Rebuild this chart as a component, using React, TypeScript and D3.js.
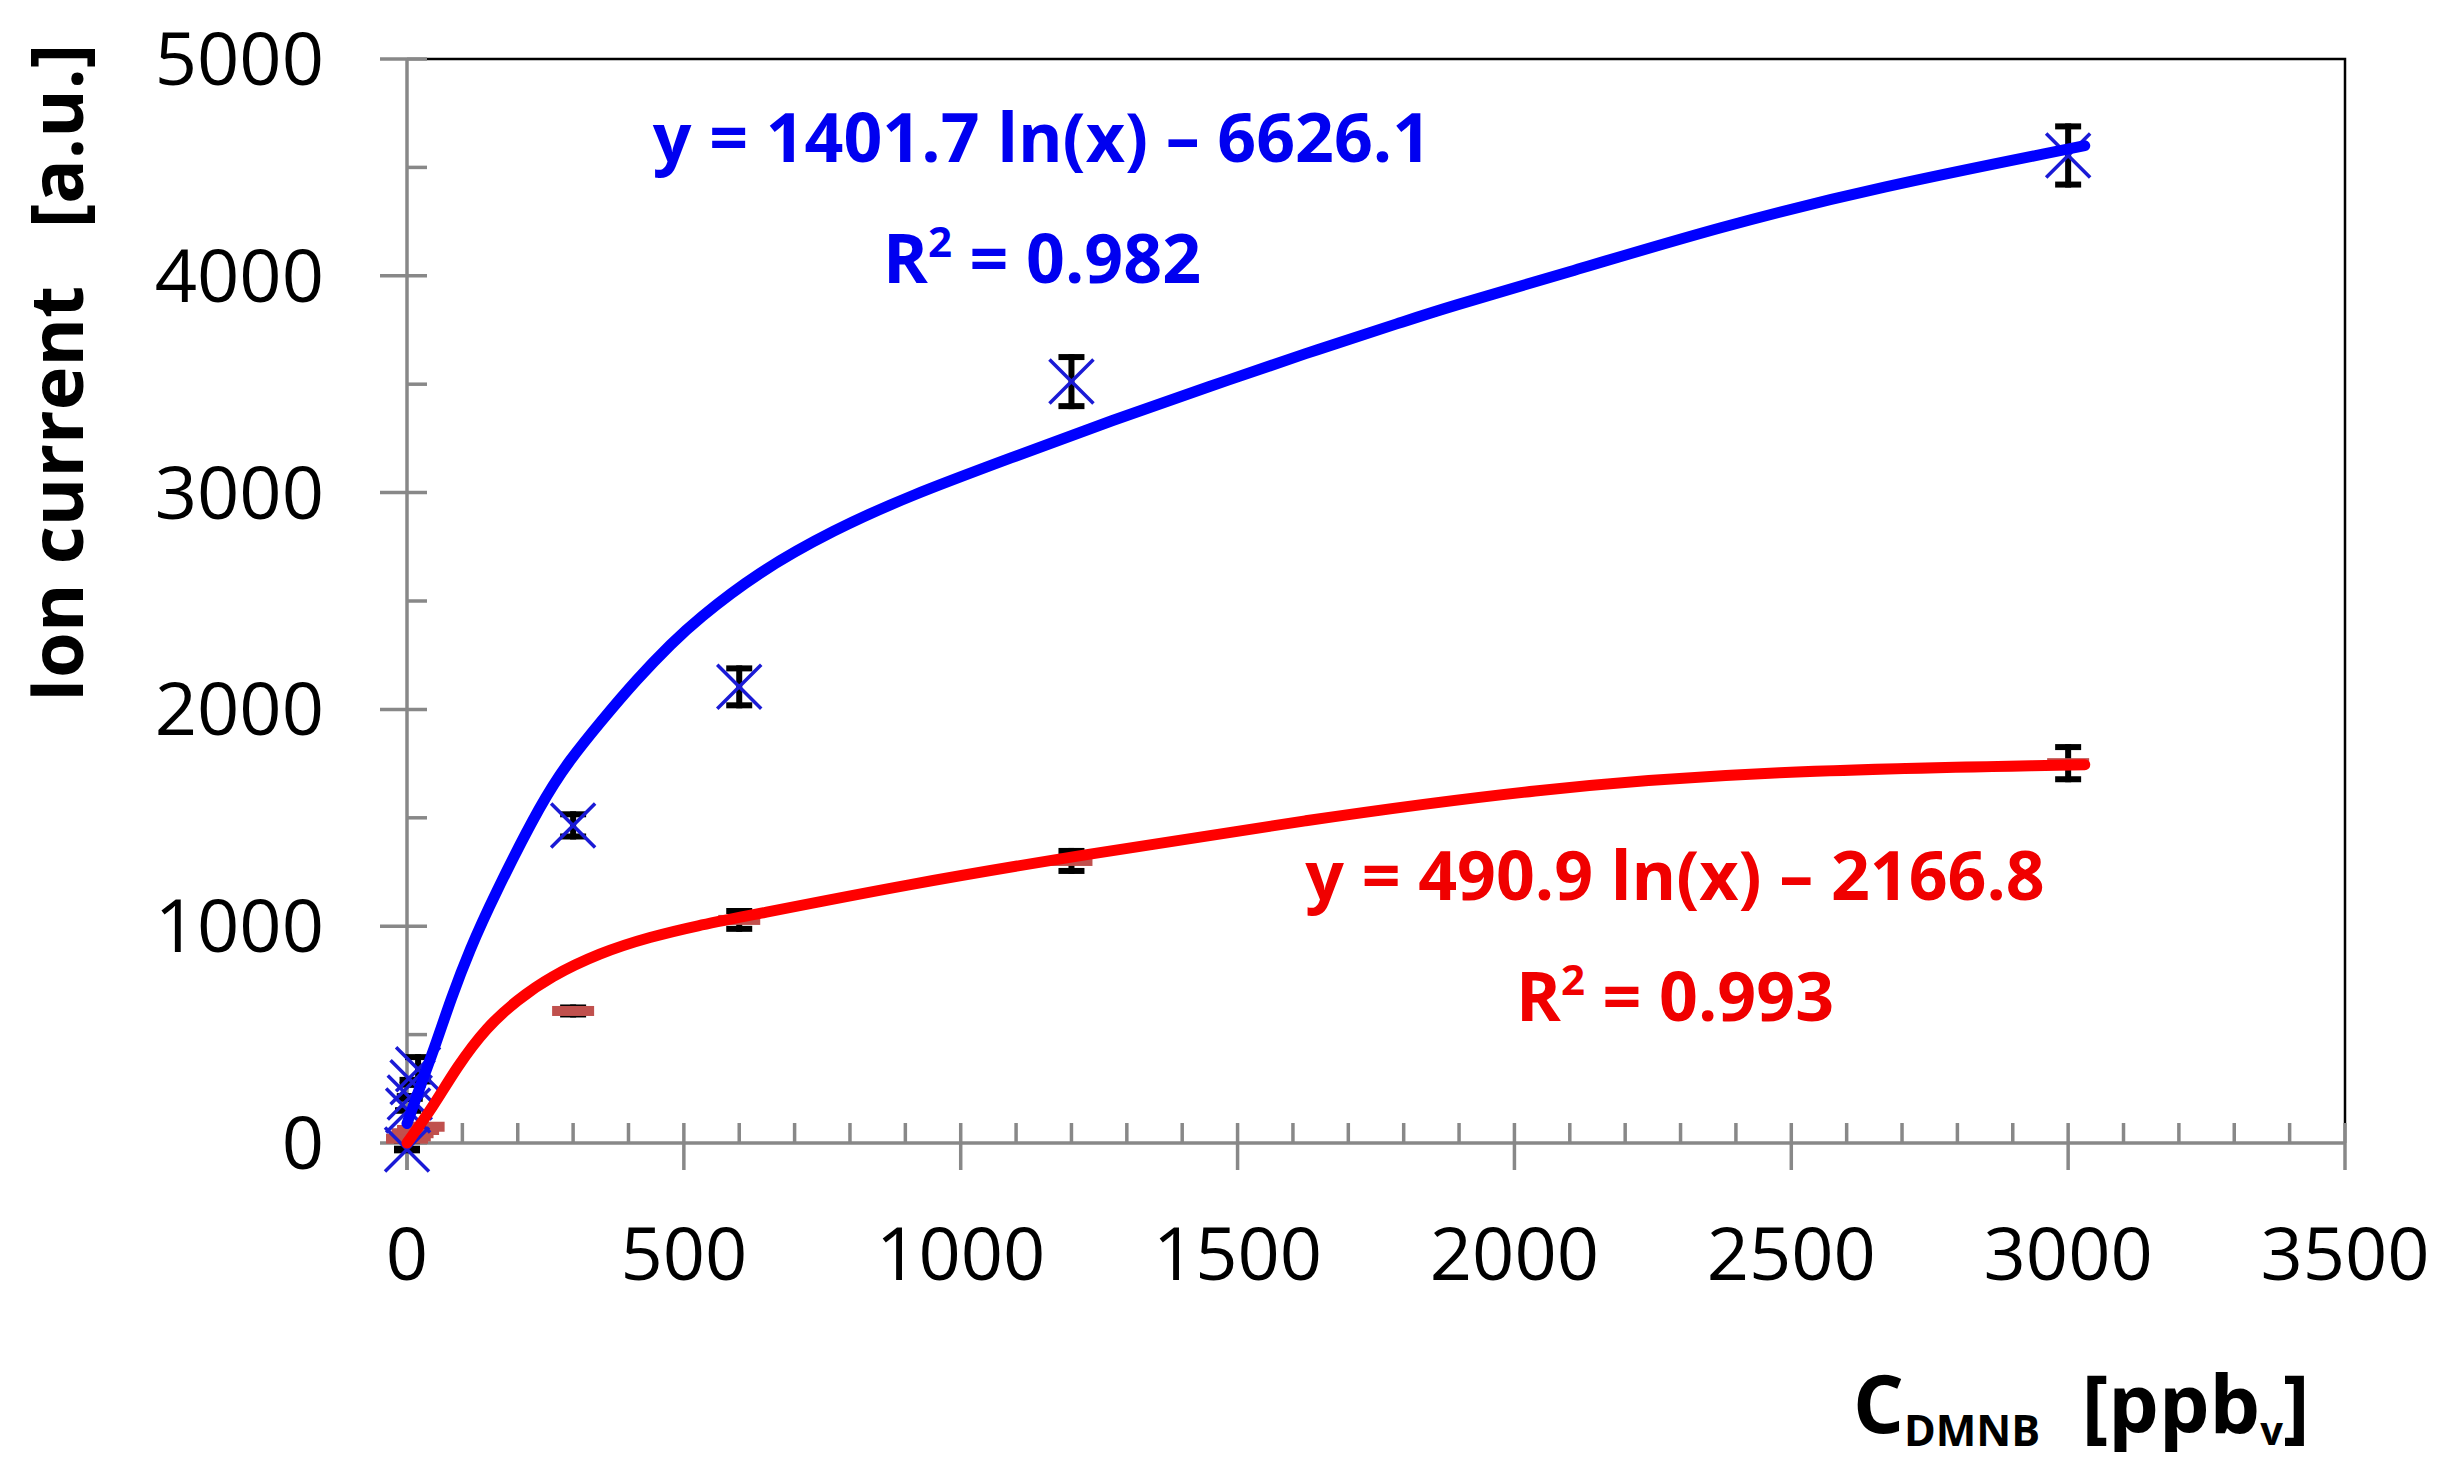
import React, { useRef, useLayoutEffect } from 'react';
import * as d3 from 'd3';

// measured points (ppb_v, a.u.)
const blueX = [0, 2, 5, 10, 20, 300, 600, 1200, 3000];
const blueY = [-30, 150, 210, 280, 340, 1465, 2104, 3512, 4555];
const blueErr = [10, 15, 20, 25, 70, 65, 99, 127, 148];

const redX = [0, 5, 10, 20, 30, 300, 600, 1200, 3000];
const redY = [20, 30, 45, 60, 75, 609, 1029, 1301, 1752];
const redErr = [5, 5, 5, 8, 10, 30, 55, 60, 88];

// trend curves as drawn in the figure
const blueCurveX = [0, 25, 50, 80, 113, 155, 245, 294, 348, 415, 480, 522, 632, 771, 908, 1092, 1276, 1450, 1620, 1808, 1872, 2090, 2373, 2655, 3030];
const blueCurveY = [90, 270, 440, 670, 890, 1130, 1583, 1767, 1938, 2140, 2310, 2410, 2630, 2829, 2986, 3161, 3336, 3490, 3640, 3795, 3849, 4011, 4228, 4408, 4600];
const redCurveX = [0, 47, 90, 144, 199, 258, 348, 439, 529, 600, 908, 1209, 1623, 2038, 2451, 3030];
const redCurveY = [0, 166, 351, 535, 660, 766, 877, 951, 1005, 1040, 1195, 1324, 1490, 1634, 1717, 1745];

const xTicks = [0, 500, 1000, 1500, 2000, 2500, 3000, 3500];
const yTicks = [0, 1000, 2000, 3000, 4000, 5000];

const blueEq = 'y = 1401.7 ln(x) \u2013 6626.1';
const blueR2 = '0.982';
const redEq = 'y = 490.9 ln(x) \u2013 2166.8';
const redR2 = '0.993';

const W = 2451;
const H = 1473;
const FONT = "'Open Sans', 'Noto Sans', sans-serif";

const App: React.FC = () => {
  const ref = useRef<SVGSVGElement>(null);

  useLayoutEffect(() => {
    const svg = d3.select(ref.current);
    svg.selectAll('*').remove();

    const x = d3.scaleLinear().domain([0, 3500]).range([407, 2345]);
    const y = d3.scaleLinear().domain([0, 5000]).range([1143, 59]);
    const grey = '#888888';

    // plot frame (top and right)
    svg.append('path')
      .attr('d', `M${x(0)},${y(5000)}H${x(3500)}V${y(0)}`)
      .attr('fill', 'none')
      .attr('stroke', '#000')
      .attr('stroke-width', 2.5);

    // axes
    const ax = svg.append('g').attr('stroke', grey).attr('stroke-width', 3.5);
    ax.append('line').attr('x1', x(0)).attr('x2', x(3500)).attr('y1', y(0)).attr('y2', y(0));
    ax.append('line').attr('x1', x(0)).attr('x2', x(0)).attr('y1', y(0) + 27).attr('y2', y(5000));

    const xMinor = d3.range(100, 3500, 100).filter((v) => v % 500 !== 0);
    ax.selectAll('.xmin').data(xMinor).enter().append('line')
      .attr('x1', (d) => x(d)).attr('x2', (d) => x(d))
      .attr('y1', y(0)).attr('y2', y(0) - 20);
    ax.selectAll('.xmaj').data(xTicks).enter().append('line')
      .attr('x1', (d) => x(d)).attr('x2', (d) => x(d))
      .attr('y1', y(0) + 27).attr('y2', y(0) - 20);

    const yMinor = d3.range(500, 5000, 1000);
    ax.selectAll('.ymin').data(yMinor).enter().append('line')
      .attr('x1', x(0)).attr('x2', x(0) + 20)
      .attr('y1', (d) => y(d)).attr('y2', (d) => y(d));
    ax.selectAll('.ymaj').data(yTicks).enter().append('line')
      .attr('x1', x(0) - 27).attr('x2', x(0) + 20)
      .attr('y1', (d) => y(d)).attr('y2', (d) => y(d));

    // tick labels
    svg.append('g').selectAll('text').data(xTicks).enter().append('text')
      .attr('x', (d) => x(d)).attr('y', 1280)
      .attr('text-anchor', 'middle')
      .style('font-family', FONT).style('font-size', '74px')
      .text((d) => d);
    svg.append('g').selectAll('text').data(yTicks).enter().append('text')
      .attr('x', 324).attr('y', (d) => y(d) + 26)
      .attr('text-anchor', 'end')
      .style('font-family', FONT).style('font-size', '74px')
      .text((d) => d);

    // error bars
    const errBars = (xs: number[], ys: number[], es: number[]) => {
      const g = svg.append('g').attr('stroke', '#000');
      xs.forEach((xv, i) => {
        const cx = x(xv);
        const top = y(ys[i] + es[i]);
        const bot = y(ys[i] - es[i]);
        g.append('line').attr('x1', cx).attr('x2', cx).attr('y1', top).attr('y2', bot).attr('stroke-width', 6);
        g.append('line').attr('x1', cx - 13).attr('x2', cx + 13).attr('y1', top + 3).attr('y2', top + 3).attr('stroke-width', 6);
        g.append('line').attr('x1', cx - 13).attr('x2', cx + 13).attr('y1', bot - 3).attr('y2', bot - 3).attr('stroke-width', 6);
      });
    };
    errBars(redX, redY, redErr);
    errBars(blueX, blueY, blueErr);

    // markers
    svg.append('g').selectAll('rect').data(redX).enter().append('rect')
      .attr('x', (d) => x(d) - 21)
      .attr('y', (_d, i) => y(redY[i]) - 5)
      .attr('width', 42).attr('height', 10)
      .attr('fill', '#c0504d');

    const s = 22;
    svg.append('g').selectAll('path').data(blueX).enter().append('path')
      .attr('d', (d, i) => {
        const cx = x(d);
        const cy = y(blueY[i]);
        return `M${cx - s},${cy - s}L${cx + s},${cy + s}M${cx - s},${cy + s}L${cx + s},${cy - s}`;
      })
      .attr('fill', 'none')
      .attr('stroke', '#1a1ad6')
      .attr('stroke-width', 3.5);

    // trend curves (smoothed through the traced points)
    const line = d3.line<[number, number]>()
      .x((d) => x(d[0]))
      .y((d) => y(d[1]))
      .curve(d3.curveBasis);
    svg.append('path')
      .attr('d', line(d3.zip(blueCurveX, blueCurveY) as [number, number][]))
      .attr('fill', 'none').attr('stroke', '#0000ff').attr('stroke-width', 11)
      .attr('stroke-linecap', 'round');
    svg.append('path')
      .attr('d', line(d3.zip(redCurveX, redCurveY) as [number, number][]))
      .attr('fill', 'none').attr('stroke', '#ff0000').attr('stroke-width', 11)
      .attr('stroke-linecap', 'round');

    // equations
    const eq = (txt: string, r2: string, cx: number, by: number, col: string) => {
      svg.append('text')
        .attr('x', cx).attr('y', by)
        .attr('text-anchor', 'middle')
        .style('font-family', FONT).style('font-size', '68px').style('font-weight', 700)
        .attr('fill', col)
        .text(txt);
      const t = svg.append('text')
        .attr('x', cx).attr('y', by + 121)
        .attr('text-anchor', 'middle')
        .style('font-family', FONT).style('font-size', '68px').style('font-weight', 700)
        .attr('fill', col);
      t.append('tspan').text('R');
      t.append('tspan').attr('dy', -26).style('font-size', '42px').text('2');
      t.append('tspan').attr('dy', 26).text(` = ${r2}`);
    };
    eq(blueEq, blueR2, 1042, 162, '#0000f0');
    eq(redEq, redR2, 1675, 900, '#f00000');

    // axis titles
    svg.append('text')
      .attr('transform', 'translate(83,373) rotate(-90)')
      .attr('text-anchor', 'middle')
      .style('font-family', FONT).style('font-size', '74px').style('font-weight', 700)
      .style('white-space', 'pre')
      .text('Ion current   [a.u.]');

    const xt = svg.append('text')
      .attr('x', 1853).attr('y', 1433)
      .style('font-family', FONT).style('font-size', '80px').style('font-weight', 700)
      .style('white-space', 'pre');
    xt.append('tspan').text('C');
    xt.append('tspan').attr('dy', 13).style('font-size', '43px').text('DMNB');
    xt.append('tspan').attr('dy', -13).text('  [ppb');
    xt.append('tspan').attr('dy', 12).style('font-size', '40px').text('v');
    xt.append('tspan').attr('dy', -12).text(']');
  }, []);

  return (
    <svg
      ref={ref}
      width={W}
      height={H}
      style={{ position: 'absolute', left: 0, top: 0, background: '#fff' }}
    />
  );
};

export default App;
